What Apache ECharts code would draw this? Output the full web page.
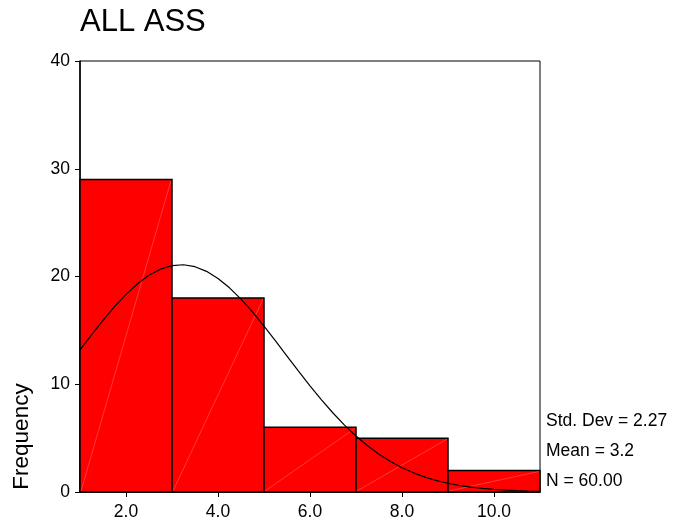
<!DOCTYPE html>
<html>
<head>
<meta charset="utf-8">
<script src="https://cdn.jsdelivr.net/npm/echarts@6/dist/echarts.min.js"></script>
<style>
html,body{margin:0;padding:0;background:#fff;}
#c{width:680px;height:529px;}
</style>
</head>
<body>
<div id="c"></div>
<script>
// Histogram bins (lower edge, upper edge) and frequencies
const binStart = [1, 3, 5, 7, 9];
const binEnd = [3, 5, 7, 9, 11];
const frequency = [29, 18, 6, 5, 2];

// Normal curve points
const curveX = [1, 1.25, 1.5, 1.75, 2, 2.25, 2.5, 2.75, 3, 3.25, 3.5, 3.75, 4, 4.25, 4.5, 4.75, 5, 5.25, 5.5, 5.75,
  6, 6.25, 6.5, 6.75, 7, 7.25, 7.5, 7.75, 8, 8.25, 8.5, 8.75, 9, 9.25, 9.5, 9.75, 10, 10.25, 10.5, 10.75, 11];
const curveY = [13.19, 14.58, 15.93, 17.20, 18.34, 19.32, 20.11, 20.68, 21.01, 21.09, 20.91, 20.48, 19.82, 18.95, 17.90, 16.71,
  15.40, 14.03, 12.62, 11.22, 9.86, 8.55, 7.33, 6.21, 5.19, 4.29, 3.51, 2.83, 2.25, 1.78, 1.38, 1.06, 0.81, 0.60, 0.45,
  0.33, 0.24, 0.17, 0.12, 0.08, 0.06];

const xTicks = [2, 4, 6, 8, 10];
const yTicks = [0, 10, 20, 30, 40];

const titleText = 'ALL ASS';
const yAxisTitle = 'Frequency';
const statsLines = ['Std. Dev = 2.27', 'Mean = 3.2', 'N = 60.00'];

const FONT = 'Liberation Sans, Arial, sans-serif';

const barData = binStart.map((s, i) => [s, binEnd[i], frequency[i]]);
const curveData = curveX.map((x, i) => [x, curveY[i]]);

const chart = echarts.init(document.getElementById('c'), null, {renderer: 'canvas'});

chart.setOption({
  animation: false,
  backgroundColor: '#fff',
  grid: {left: 80, top: 61, width: 460, height: 431, show: true, borderColor: '#000', borderWidth: 1, backgroundColor: 'transparent'},
  xAxis: {
    type: 'value', min: 1, max: 11,
    axisLine: {show: true, onZero: false, lineStyle: {color: '#000', width: 1.5}},
    axisTick: {show: true, length: 5, lineStyle: {color: '#000', width: 1}, customValues: xTicks},
    axisLabel: {color: '#000', fontFamily: FONT, fontSize: 17.5, margin: 11, customValues: xTicks,
      formatter: v => v.toFixed(1)},
    splitLine: {show: false}
  },
  yAxis: {
    type: 'value', min: 0, max: 40, interval: 10,
    axisLine: {show: true, lineStyle: {color: '#000', width: 1.5}},
    axisTick: {show: true, length: 5, lineStyle: {color: '#000', width: 1}, customValues: yTicks},
    axisLabel: {color: '#000', fontFamily: FONT, fontSize: 17.5, margin: 10, customValues: yTicks},
    splitLine: {show: false}
  },
  graphic: [
    {type: 'text', x: 80, y: 22, style: {text: titleText, font: '31px ' + FONT, fill: '#000', verticalAlign: 'middle'}},
    {type: 'text', x: 21.5, y: 436.5, rotation: Math.PI / 2, style: {text: yAxisTitle, font: '22.5px ' + FONT, fill: '#000', align: 'center', verticalAlign: 'middle'}},
    {type: 'text', x: 546, y: 421, style: {text: statsLines[0], font: '17.5px ' + FONT, fill: '#000', verticalAlign: 'middle'}},
    {type: 'text', x: 546, y: 451, style: {text: statsLines[1], font: '17.5px ' + FONT, fill: '#000', verticalAlign: 'middle'}},
    {type: 'text', x: 546, y: 481, style: {text: statsLines[2], font: '17.5px ' + FONT, fill: '#000', verticalAlign: 'middle'}}
  ],
  series: [
    {
      type: 'custom',
      data: barData,
      encode: {x: [0, 1], y: 2},
      renderItem: function (params, api) {
        const p0 = api.coord([api.value(0), 0]);
        const p1 = api.coord([api.value(1), api.value(2)]);
        return {
          type: 'group',
          children: [
            {type: 'rect', shape: {x: p0[0], y: p1[1], width: p1[0] - p0[0], height: p0[1] - p1[1]},
              style: {fill: '#ff0000', stroke: '#000', lineWidth: 1.5}},
            {type: 'line', shape: {x1: p0[0] + 1, y1: p0[1] - 1, x2: p1[0] - 1, y2: p1[1] + 1},
              style: {stroke: 'rgba(255,170,170,0.55)', lineWidth: 0.6}}
          ]
        };
      },
      z: 2
    },
    {
      type: 'line',
      data: curveData,
      smooth: false,
      symbol: 'none',
      lineStyle: {color: '#000', width: 1.2},
      z: 3
    }
  ]
});
</script>
</body>
</html>
